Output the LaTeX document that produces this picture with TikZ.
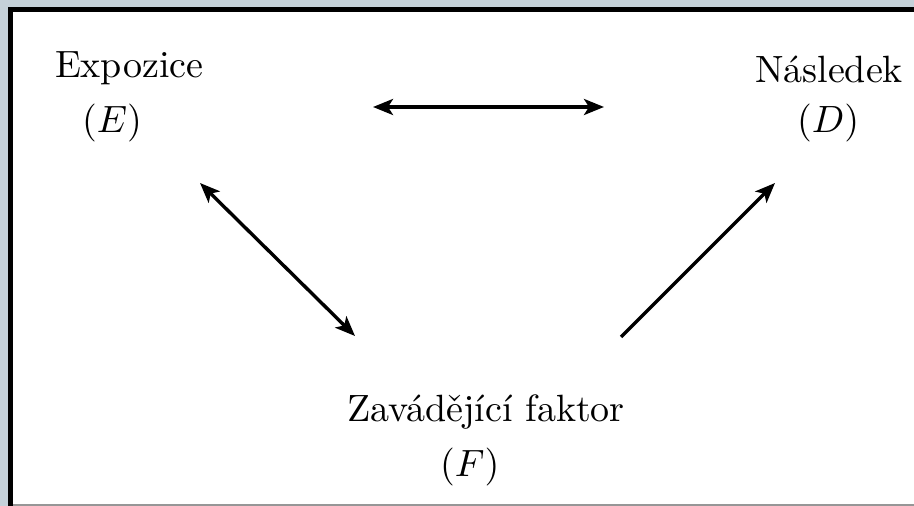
\documentclass[tikz,border=0pt]{standalone}
\usetikzlibrary{arrows.meta}
\tikzset{
  lbl/.style={inner sep=0pt,outer sep=0pt,anchor=base west,scale=1.9,font=\fontsize{10}{12}\selectfont},
  conn/.style={line width=1.7pt,draw=black},
  arr/.tip={Stealth[length=10pt,width=8pt,inset=2.5pt]}
}
\begin{document}
\begin{tikzpicture}[x=.5pt,y=-.5pt]
\path[use as bounding box] (0,0) rectangle (914,506);
\path[fill={rgb,255:red,197;green,209;blue,217}] (0,0) rectangle (914,506);
\path[fill=white] (8,7) rectangle (914,506);
\draw[draw={rgb,255:red,150;green,150;blue,150},line width=1pt] (13,505) -- (914,505);
\draw[draw=black,line width=2.5pt] (10.5,506) -- (10.5,9.5) -- (914,9.5);
\node[lbl] (expo) at (55,78) {Expozice};
\node[lbl] (expoE) at (82,133) {$(E)$};
\node[lbl] (nasl) at (755,83) {Následek};
\node[lbl] (naslD) at (797,133) {$(D)$};
\node[lbl] (zav) at (347,422) {Zavádějící faktor};
\node[lbl] (zavF) at (440,477) {$(F)$};
\coordinate (ed1) at (373,107);
\coordinate (ed2) at (604,107);
\coordinate (ef1) at (200,183);
\coordinate (ef2) at (355,336);
\coordinate (fd1) at (621,337);
\coordinate (fd2) at (775,183);
\draw[conn,arr-arr] (ed1) -- (ed2);
\draw[conn,arr-arr] (ef1) -- (ef2);
\draw[conn,-arr] (fd1) -- (fd2);
\end{tikzpicture}
\end{document}
